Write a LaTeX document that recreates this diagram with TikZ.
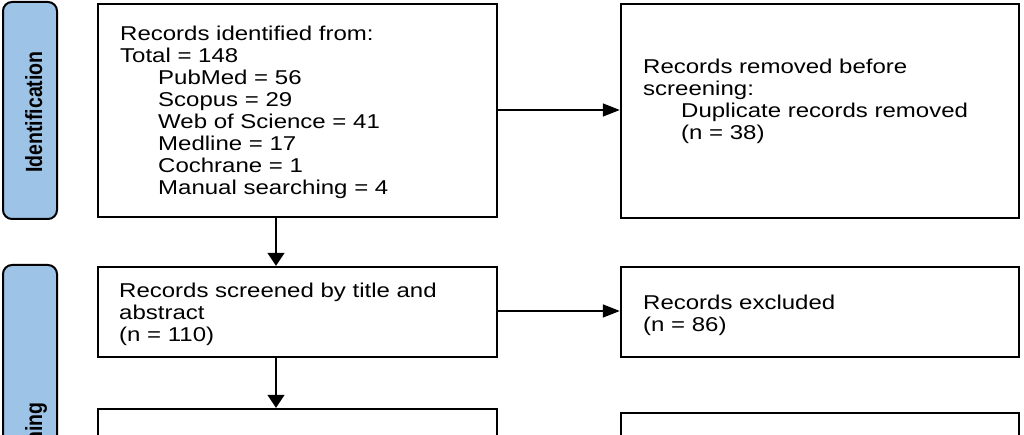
\documentclass[tikz,border=0pt]{standalone}
\usepackage{fontspec}
\setmainfont{Liberation Sans}[FakeStretch=1.2]
\newfontfamily\lblfont{Liberation Sans}
\usetikzlibrary{arrows.meta}
\definecolor{lblblue}{HTML}{9DC3E6}
\begin{document}
\begin{tikzpicture}[x=1pt,y=-1pt,
  box/.style={draw=black, line width=2.4pt, fill=white, inner sep=0pt},
  lblbox/.style={draw=black, line width=2pt, fill=lblblue, rounded corners=9pt, inner sep=0pt, minimum width=54pt},
  lbltext/.style={rotate=90, inner sep=0pt, font=\lblfont\fontsize{19.5}{22}\selectfont\bfseries},
  txt/.style={anchor=north west, inner sep=0pt, align=left, font=\fontsize{20}{22}\selectfont},
  arrowH/.style={line width=1.5pt, -{Triangle[length=17pt,width=13pt]}},
  arrowV/.style={line width=1.5pt, -{Triangle[length=13pt,width=17pt]}}]
\clip (0,0) rectangle (1024,435);
\fill[white] (0,0) rectangle (1024,435);
% phase labels
\node[lblbox, minimum height=217pt] (idlbl) at (30,110.5) {};
\node[lbltext, anchor=base] (idlbltxt) at (42,112) {\scalebox{1}[1.2]{Identification}};
\node[lblbox, minimum height=435pt] (sclbl) at (30,482.5) {};
\node[lbltext, anchor=base east] (sclbltxt) at (42,402) {\scalebox{1}[1.2]{Screening}};
% boxes
\node[box, minimum width=399pt, minimum height=213pt] (ident) at (297.5,110.5) {};
\node[box, minimum width=398pt, minimum height=214pt] (removed) at (820,111) {};
\node[box, minimum width=399pt, minimum height=90pt] (screen) at (297.5,312) {};
\node[box, minimum width=398pt, minimum height=90pt] (excl) at (820,312) {};
\node[box, minimum width=399pt, minimum height=231pt] (elig) at (297.5,524.5) {};
\node[box, minimum width=398pt, minimum height=227pt] (rep) at (820,526.5) {};
% texts
\node[txt] (identtxt) at (120,24.6) {\strut Records identified from:\\Total = 148\\
\hspace*{38pt}PubMed = 56\\\hspace*{38pt}Scopus = 29\\\hspace*{38pt}Web of Science = 41\\
\hspace*{38pt}Medline = 17\\\hspace*{38pt}Cochrane = 1\\\hspace*{38pt}Manual searching = 4};
\node[txt] (removedtxt) at (643,57.6) {\strut Records removed before\\screening:\\
\hspace*{38pt}Duplicate records removed\\\hspace*{38pt}(n = 38)};
\node[txt] (screentxt) at (119,281.6) {\strut Records screened by title and\\abstract\\(n = 110)};
\node[txt] (excltxt) at (643,293.6) {\strut Records excluded\\(n = 86)};
% connectors
\coordinate (ax) at (276,0);
\draw[arrowH] (ident.east |- 0,110) -- (removed.west |- 0,110);
\draw[arrowH] (screen.east |- 0,311) -- (excl.west |- 0,311);
\draw[arrowV] (ident.south -| ax) -- (screen.north -| ax);
\draw[arrowV] (screen.south -| ax) -- (elig.north -| ax);
\end{tikzpicture}
\end{document}
